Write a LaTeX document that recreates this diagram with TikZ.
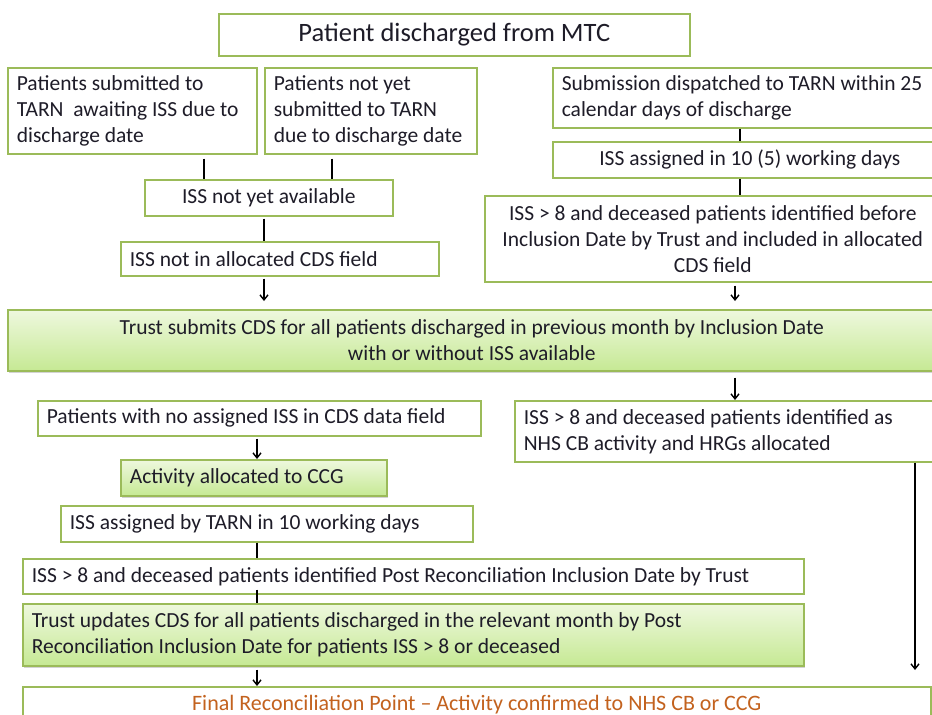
\documentclass[tikz,border=0pt]{standalone}
\usepackage{fontspec}
\setmainfont{Carlito}
\usetikzlibrary{arrows.meta,shadows}
\definecolor{bordergreen}{RGB}{155,187,89}
\definecolor{gtop}{RGB}{238,248,222}
\definecolor{gbot}{RGB}{198,233,148}
\definecolor{txt}{RGB}{30,28,40}
\definecolor{finaltxt}{RGB}{195,98,30}
\newcommand{\bfnt}[1]{\fontsize{#1}{26}\selectfont}
\newcommand{\ml}[1]{\mbox{\spaceskip=0pt\relax\xspaceskip=0pt\relax #1}}
\begin{document}
\begin{tikzpicture}[x=1pt,y=-1pt,
  box/.style={draw=bordergreen, line width=1.6pt, fill=white, rectangle, anchor=north west,
    inner xsep=9pt, inner ysep=0pt, font=\bfnt{21.5}, text=txt},
  gbox/.style={box, top color=gtop, bottom color=gbot,
    drop shadow={shadow xshift=1.5pt, shadow yshift=-2.5pt, opacity=0.35, fill=black!50}},
  conn/.style={line width=1.4pt, black},
  arr/.style={conn, -{Straight Barb[length=5pt,width=8pt]}},
]
\useasboundingbox (0,0) rectangle (932,715);

\node[box, minimum width=471pt, minimum height=42pt, font=\bfnt{26.5}] (A) at (218,13) {\ml{Patient discharged from MTC}};
\node[box, text width=231pt, minimum height=86pt, align=left] (B) at (7,67) {\ml{Patients submitted to}\\\ml{TARN~ awaiting ISS due to}\\\ml{discharge date}};
\node[box, text width=194pt, minimum height=86pt, align=left] (C) at (264,67) {\ml{Patients not yet}\\\ml{submitted to TARN}\\\ml{due to discharge date}};
\node[box, text width=370pt, minimum height=60pt, align=left] (D) at (552,67) {\ml{Submission dispatched to TARN within 25}\\\ml{calendar days of discharge}};
\node[box, minimum width=394pt, minimum height=36pt, align=center] (E) at (552,141) {\ml{ISS assigned in 10 (5) working days}};
\node[box, text width=438pt, minimum height=86pt, align=center] (R) at (484,195) {\ml{ISS > 8 and deceased patients identified before}\\\ml{Inclusion Date by Trust and included in allocated}\\\ml{CDS field}};
\node[box, minimum width=248pt, minimum height=36pt, align=center] (F) at (144,179) {\ml{ISS not yet available}};
\node[box, text width=300pt, minimum height=34pt, align=left] (G) at (120,241) {\ml{ISS not in allocated CDS field}};
\node[gbox, text width=910pt, minimum height=61pt, align=center] (H) at (7,309) {\ml{Trust submits CDS for all patients discharged in previous month by Inclusion Date}\\\ml{with or without ISS available}};
\node[box, text width=425pt, minimum height=35pt, align=left] (I) at (37,400) {\ml{Patients with no assigned ISS in CDS data field}};
\node[box, text width=408pt, minimum height=61pt, align=left] (J) at (514,400) {\ml{ISS > 8 and deceased patients identified as}\\\ml{NHS CB activity and HRGs allocated}};
\node[gbox, text width=248pt, minimum height=36pt, align=left] (K) at (120,459) {\ml{Activity allocated to CCG}};
\node[box, text width=394pt, minimum height=36pt, align=left] (L) at (60,505) {\ml{ISS assigned by TARN in 10 working days}};
\node[box, text width=763pt, minimum height=35pt, align=left] (M) at (22,558) {\ml{ISS > 8 and deceased patients identified Post Reconciliation Inclusion Date by Trust}};
\node[gbox, text width=763pt, minimum height=62pt, align=left] (N) at (22,603) {\ml{Trust updates CDS for all patients discharged in the relevant month by Post}\\\ml{Reconciliation Inclusion Date for patients ISS > 8 or deceased}};
\node[box, minimum width=908pt, minimum height=36pt, align=center, text=finaltxt, font=\bfnt{22}] (O) at (22,686) {\ml{Final Reconciliation Point -- Activity confirmed to NHS CB or CCG}};

\coordinate (x204) at (204,0);
\coordinate (x332) at (332,0);
\coordinate (x264) at (264,0);
\coordinate (x740) at (740,0);
\coordinate (x735) at (735,0);
\coordinate (x257) at (257,0);
\coordinate (x915) at (915,0);

\draw[conn, shorten <=4pt] (B.south -| x204) -- (F.north -| x204);
\draw[conn, shorten <=4pt] (C.south -| x332) -- (F.north -| x332);
\draw[conn, shorten <=2pt] (F.south -| x264) -- (G.north -| x264);
\draw[arr, shorten <=2pt, shorten >=8pt] (G.south -| x264) -- (H.north -| x264);
\draw[conn] (D.south -| x740) -- (E.north -| x740);
\draw[conn] (E.south -| x740) -- (R.north -| x740);
\draw[arr, shorten <=3pt, shorten >=8pt] (R.south -| x735) -- (H.north -| x735);
\draw[arr, shorten <=6pt] (H.south -| x735) -- (J.north -| x735);
\draw[arr, shorten <=2pt] (I.south -| x257) -- (K.north -| x257);
\draw[conn] (L.south -| x257) -- (M.north -| x257);
\draw[conn, shorten <=-5pt] (M.south -| x257) -- (N.north -| x257);
\draw[arr, shorten <=3pt] (N.south -| x257) -- (O.north -| x257);
\draw[arr, shorten >=16pt] (J.south -| x915) -- (O.north -| x915);
\end{tikzpicture}
\end{document}
